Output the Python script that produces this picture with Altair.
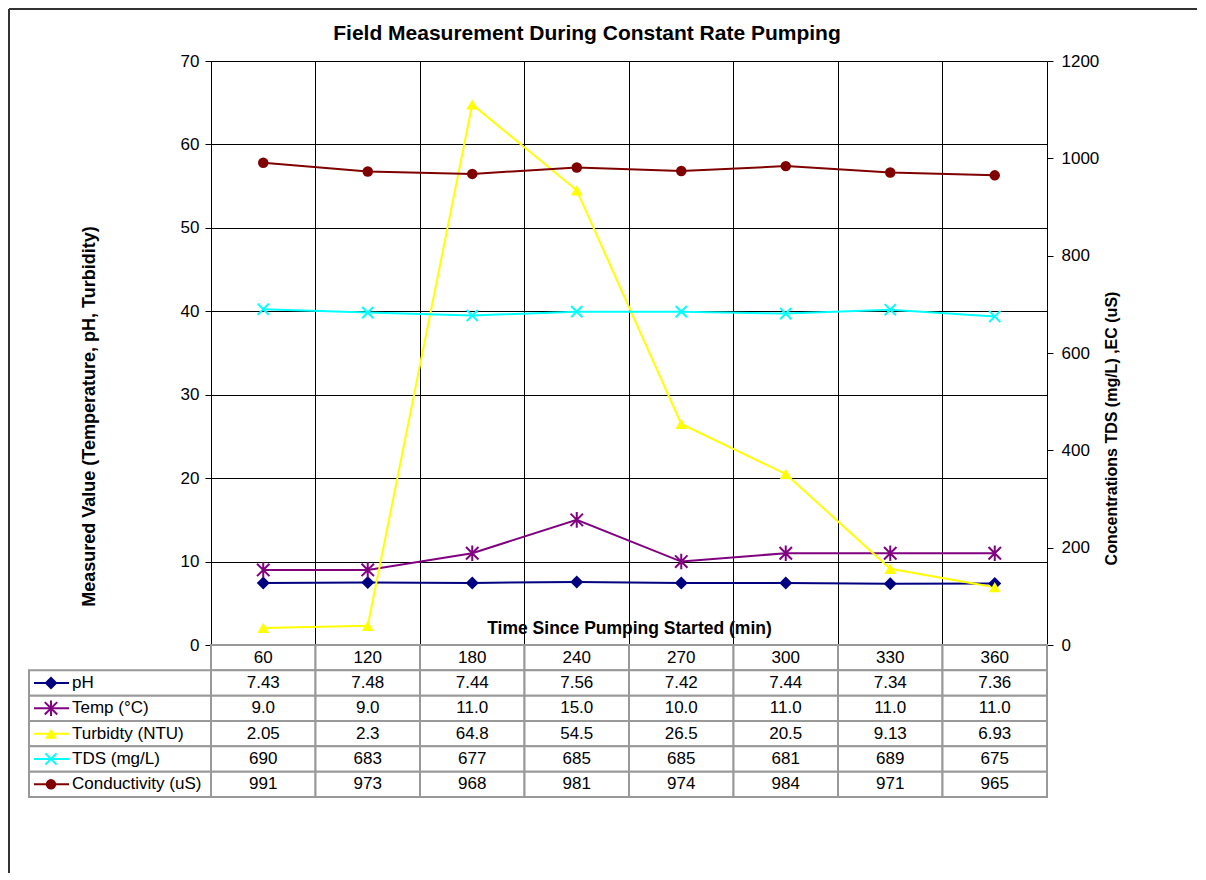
import altair as alt
import pandas as pd

FONT = "Liberation Sans"

times = ["60", "120", "180", "240", "270", "300", "330", "360"]
ph = [7.43, 7.48, 7.44, 7.56, 7.42, 7.44, 7.34, 7.36]
temp = [9.0, 9.0, 11.0, 15.0, 10.0, 11.0, 11.0, 11.0]
turb = [2.05, 2.3, 64.8, 54.5, 26.5, 20.5, 9.13, 6.93]
tds = [690, 683, 677, 685, 685, 681, 689, 675]
cond = [991, 973, 968, 981, 974, 984, 971, 965]

series_names = ["pH", "Temp (°C)", "Turbidty (NTU)", "TDS (mg/L)", "Conductivity (uS)"]
series_vals = [ph, temp, turb, tds, cond]
series_fmt = ["{:.2f}", "{:.1f}", "{:g}", "{:d}", "{:d}"]
series_side = ["left", "left", "left", "right", "right"]
colors = ["#000080", "#800080", "#FFFF00", "#00FFFF", "#800000"]
ASTER = "M-1,-1L1,1M-1,1L1,-1M0,-1.25L0,1.25"
XMARK = "M-1,-1L1,1M-1,1L1,-1"
shapes = ["diamond", ASTER, "triangle-up", XMARK, "circle"]
sizes = [170, 110, 180, 100, 150]
filled = [True, False, True, False, True]
title_text = "Field Measurement During Constant Rate Pumping"

rows = []
for name, vals, fmt, side, fil in zip(series_names, series_vals, series_fmt, series_side, filled):
    for t, v in zip(times, vals):
        rows.append({"series": name, "time": t, "value": v, "label": fmt.format(v),
                     "side": side, "filled": fil})
df = pd.DataFrame(rows)

color = alt.Color("series:N", scale=alt.Scale(domain=series_names, range=colors), legend=None)
shape = alt.Shape("series:N", scale=alt.Scale(domain=series_names, range=shapes), legend=None)
size = alt.Size("series:N", scale=alt.Scale(domain=series_names, range=sizes), legend=None)

xband = alt.Scale(type="band", paddingInner=0, paddingOuter=0)
x_top = alt.X("time:N", sort=times, scale=xband,
              axis=alt.Axis(title="Time Since Pumping Started (min)", labels=False, ticks=False,
                            grid=True, gridColor="#000000", gridWidth=1, bandPosition=0,
                            domainColor="#000000", domainWidth=1,
                            titleFont=FONT, titleFontSize=17.5, titleFontWeight="bold",
                            titleColor="#000000", titleY=-17, titleBaseline="middle"))

left_axis = alt.Axis(title="Measured Value (Temperature, pH, Turbidity)", values=list(range(0, 71, 10)),
                     grid=True, gridColor="#000000", domainColor="#000000", tickColor="#000000",
                     tickSize=6, labelFont=FONT, labelFontSize=17, labelColor="#000000", labelPadding=6,
                     titleFont=FONT, titleFontSize=18, titleFontWeight="bold", titleColor="#000000",
                     titleX=-122, titleY=355, titleAngle=270, titleAlign="center", titleBaseline="middle")
right_axis = alt.Axis(title="Concentrations TDS (mg/L) ,EC (uS)", orient="right", format="d",
                      values=list(range(0, 1201, 200)), grid=False,
                      domainColor="#000000", tickColor="#000000", tickSize=6,
                      labelFont=FONT, labelFontSize=17, labelColor="#000000", labelPadding=8,
                      titleFont=FONT, titleFontSize=16, titleFontWeight="bold", titleColor="#000000",
                      titleX=64, titleY=367, titleAngle=270, titleAlign="center", titleBaseline="middle")


def side_layer(side, ydom, axis):
    d = df[df.side == side]
    base = alt.Chart(d).encode(
        x=x_top,
        y=alt.Y("value:Q", scale=alt.Scale(domain=ydom, nice=False), axis=axis),
        color=color,
    )
    line = base.mark_line(strokeWidth=2)
    pf = base.transform_filter(alt.datum.filled == True).mark_point(
        filled=True, opacity=1).encode(shape=shape, size=size)
    ps = base.transform_filter(alt.datum.filled == False).mark_point(
        filled=False, opacity=1, strokeWidth=2).encode(shape=shape, size=size)
    return alt.layer(line, pf, ps)


left = side_layer("left", [0, 70], left_axis)
right = side_layer("right", [0, 1200], right_axis)

frame_df = pd.DataFrame({"k": [0]})
frame_v = alt.Chart(frame_df).mark_rule(color="#333333", strokeWidth=2).encode(
    x=alt.value(-202), y=alt.value(-52), y2=alt.value(812))
frame_h = alt.Chart(frame_df).mark_rule(color="#333333", strokeWidth=2).encode(
    x=alt.value(-202), x2=alt.value(986), y=alt.value(-52))
title_mark = alt.Chart(pd.DataFrame({"t": [title_text]})).mark_text(
    font=FONT, fontSize=21, fontWeight="bold", color="#000000", baseline="middle").encode(
    x=alt.value(376), y=alt.value(-27), text="t:N")

top = alt.layer(left, right, frame_v, frame_h, title_mark).resolve_scale(y="independent").properties(
    width=836, height=584,
)

# ---- data table ----
table_rows = ["hdr"] + series_names
hdr = pd.DataFrame({"row": "hdr", "time": times, "label": times})
cells = pd.concat([hdr, df[["series", "time", "label"]].rename(columns={"series": "row"})],
                  ignore_index=True)
yband = alt.Scale(type="band", paddingInner=0, paddingOuter=0, domain=table_rows)
x_tab = alt.X("time:N", sort=times, scale=xband, axis=None)
y_tab = alt.Y("row:N", scale=yband, axis=None)
y_mid = alt.Y("row:N", scale=yband, axis=None, bandPosition=0.5)

cell_rect = alt.Chart(cells).mark_rect(fill="white", stroke="#999999", strokeWidth=2).encode(
    x=x_tab, y=y_tab)
cell_text = alt.Chart(cells).mark_text(font=FONT, fontSize=17, color="#000000").encode(
    x=x_tab, y=y_tab, text="label:N")

leg = pd.DataFrame({"row": series_names, "series": series_names})
leg_rect = alt.Chart(leg).mark_rect(fill="white", stroke="#999999", strokeWidth=2).encode(
    x=alt.value(-182), x2=alt.value(0), y=y_tab)
leg_line = alt.Chart(leg).mark_rule(strokeWidth=2).encode(
    x=alt.value(-177), x2=alt.value(-142), y=y_mid, color=color)
leg_pf = alt.Chart(leg).transform_filter(
    alt.FieldOneOfPredicate(field="series", oneOf=[s for s, f in zip(series_names, filled) if f])
).mark_point(filled=True, opacity=1).encode(
    x=alt.value(-160), y=y_mid, color=color, shape=shape, size=size)
leg_ps = alt.Chart(leg).transform_filter(
    alt.FieldOneOfPredicate(field="series", oneOf=[s for s, f in zip(series_names, filled) if not f])
).mark_point(filled=False, opacity=1, strokeWidth=2).encode(
    x=alt.value(-160), y=y_mid, color=color, shape=shape, size=size)
leg_text = alt.Chart(leg).mark_text(font=FONT, fontSize=17, color="#000000", align="left").encode(
    x=alt.value(-139), y=y_mid, text="series:N")

table = alt.layer(cell_rect, cell_text, leg_rect, leg_line, leg_pf, leg_ps, leg_text).properties(
    width=836, height=152)

chart = alt.vconcat(top, table, spacing=0, bounds="flush").properties(
    padding=0, background="white"
).configure_view(stroke=None)

chart.save("out.html", embed_options={"renderer": "svg", "actions": False})
